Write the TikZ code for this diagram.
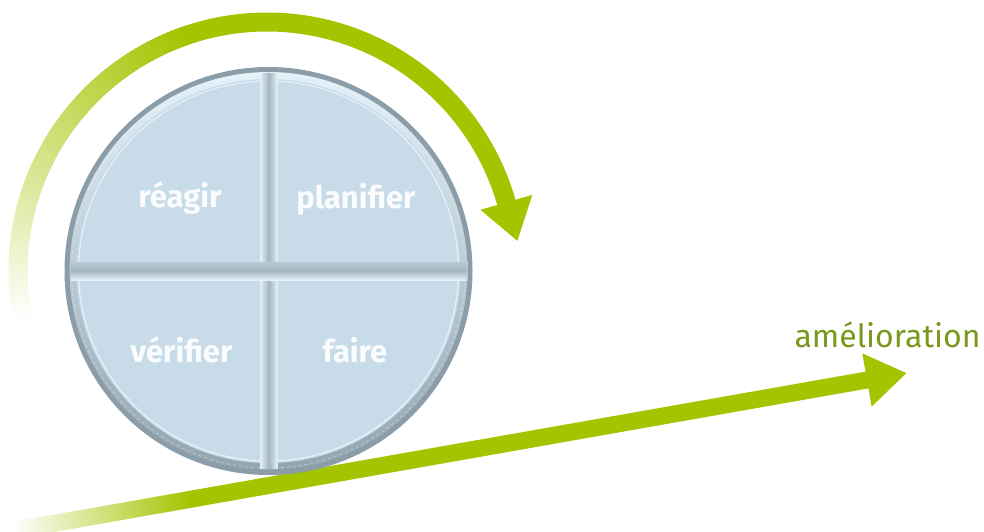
\documentclass[tikz,border=0pt]{standalone}
\usepackage{fontspec}
\setmainfont{Fira Sans}
\usetikzlibrary{calc}
\definecolor{pdgreen}{RGB}{164,196,0}
\definecolor{txtgreen}{RGB}{122,152,28}
\definecolor{rimgray}{RGB}{138,157,168}
\definecolor{panelblue}{RGB}{199,220,232}
\definecolor{hilite}{RGB}{228,241,249}
\definecolor{shadowgray}{RGB}{146,165,176}
\definecolor{labelwhite}{RGB}{250,252,254}
\definecolor{barlight}{RGB}{228,241,248}
\definecolor{bardark}{RGB}{163,181,191}
\definecolor{barmid}{RGB}{184,201,210}
\begin{document}
\begin{tikzpicture}[x=1pt,y=-1pt,
  quadlabel/.style={font=\bfseries\fontsize{31}{33}\selectfont, text=labelwhite, anchor=base, inner sep=0pt},
  improvelabel/.style={font=\fontsize{32}{34}\selectfont, text=txtgreen, anchor=base, inner sep=0pt},
  greenband/.style={line width=19pt, line cap=butt},
  greenshaft/.style={line width=17pt, line cap=butt}]
\useasboundingbox (0,0) rectangle (984,531);
\fill[white] (0,0) rectangle (984,531);
\coordinate (C) at (268.5,271);
\coordinate (A) at (267,271);

% ---- circular arrow (fading in from the lower left)
\foreach \a in {165,166,...,250}{
  \pgfmathsetmacro{\p}{max(0,min(100,(\a-168)*100/82))}
  \draw[greenband, draw=pdgreen!\p!white] (A) ++(\a:249) arc[start angle=\a, end angle=\a+1.6, radius=249];
}
\draw[greenband, draw=pdgreen] (A) ++(251:249) arc[start angle=251, end angle=344.6, radius=249];
\fill[pdgreen] ($(A)+(344:276)$) -- ($(A)+(344:222)$) -- ($(A)+(344:249)+(74:40)$) -- cycle;

% ---- improvement arrow
\coordinate (B2) at (867,380);
\coordinate (S) at ($(B2)+(170:870)$);
\foreach \i in {0,...,35}{
  \pgfmathsetmacro{\p}{\i*100/35}
  \draw[greenshaft, draw=pdgreen!\p!white] ($(S)+(-10:\i*5.2)$) -- ($(S)+(-10:\i*5.2+5.8)$);
}
\draw[greenshaft, draw=pdgreen] ($(S)+(-10:186)$) -- ($(B2)+(-10:1)$);
\fill[pdgreen] ($(B2)+(80:27)$) -- ($(B2)+(260:27)$) -- ($(B2)+(-10:40)$) -- cycle;

% ---- PDCA wheel
\fill[rimgray] (C) circle[radius=204];
\shade[top color=hilite, bottom color=shadowgray] (C) circle[radius=199];
\fill[panelblue] (C) circle[radius=192];
\draw[hilite, line width=1.2pt] (C) circle[radius=190];
\draw[white, opacity=0.45, line width=0.6pt, dash pattern=on 3pt off 3pt] (C) circle[radius=197];
\begin{scope}
  \clip (C) circle[radius=198];
  \shade[left color=barlight, right color=barlight, middle color=bardark] (260,60) rectangle (277.5,482);
  \shade[top color=barmid, bottom color=barlight, middle color=bardark] (60,262) rectangle (478,280);
\end{scope}

\node[quadlabel] (react) at (180,207) {réagir};
\node[quadlabel] (plan) at (356,208) {planifier};
\node[quadlabel] (check) at (181.5,362) {vérifier};
\node[quadlabel] (do) at (355,362) {faire};
\node[improvelabel] (improve) at (887.5,347) {amélioration};
\end{tikzpicture}
\end{document}
